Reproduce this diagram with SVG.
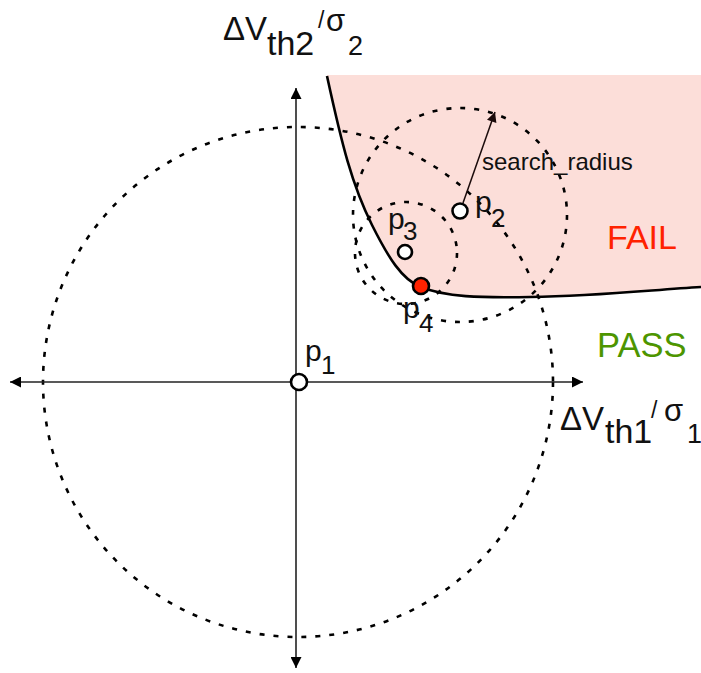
<svg xmlns="http://www.w3.org/2000/svg" width="701" height="673" viewBox="0 0 701 673">
<style>
text { font-family: "Liberation Sans", Arial, sans-serif; fill: #111; }
.dash { fill: none; stroke: #000; stroke-width: 2.6; stroke-dasharray: 5 9; }
.axis { fill: none; stroke: #222; stroke-width: 1.6; }
.pt { fill: #fff; stroke: #000; stroke-width: 2.6; }
</style>
<defs>
<marker id="ah" viewBox="0 0 10 10" refX="10" refY="5" markerWidth="15" markerHeight="11" markerUnits="userSpaceOnUse" orient="auto-start-reverse">
<path d="M0,0 L10,5 L0,10 z" fill="#000"/>
</marker>
<marker id="ah2" viewBox="0 0 10 10" refX="10" refY="5" markerWidth="13" markerHeight="10" markerUnits="userSpaceOnUse" orient="auto">
<path d="M0,0 L10,5 L0,10 z" fill="#1a0a0a"/>
</marker>
</defs>
<rect width="701" height="673" fill="#fff"/>
<g id="fail-region">
<path d="M327,76 C342,145 352,185 372,225 C388,257 402,280 421,287 C445,297 480,298 530,297 C600,296 650,290 701,287 L701,75 L327,75 Z" fill="#fcded9"/>
<path d="M327,76 C342,145 352,185 372,225 C388,257 402,280 421,287 C445,297 480,298 530,297 C600,296 650,290 701,287" fill="none" stroke="#000" stroke-width="2.6"/>
</g>
<g id="circles">
<circle class="dash" cx="298" cy="382" r="255"/>
<circle class="dash" cx="460" cy="215" r="107"/>
<circle class="dash" cx="406" cy="253" r="51"/>
</g>
<g id="connectors">
<line class="axis" x1="10" y1="382" x2="583" y2="382" marker-start="url(#ah)" marker-end="url(#ah)"/>
<line class="axis" x1="296" y1="88" x2="296" y2="668" marker-start="url(#ah)" marker-end="url(#ah)"/>
<line x1="463" y1="203" x2="495" y2="112" stroke="#1a0a0a" stroke-width="1.5" marker-end="url(#ah2)"/>
</g>
<g id="p1">
<circle class="pt" cx="299" cy="382" r="8"/>
<text x="305" y="361" font-size="30">p</text>
<text x="321" y="374" font-size="26">1</text>
</g>
<g id="p2">
<circle class="pt" cx="460" cy="211" r="7.5"/>
<text x="475" y="212" font-size="30">p</text>
<text x="491" y="227" font-size="26">2</text>
</g>
<g id="p3">
<circle class="pt" cx="405" cy="252" r="7"/>
<text x="388" y="229" font-size="30">p</text>
<text x="403" y="240" font-size="26">3</text>
</g>
<g id="p4">
<circle cx="421" cy="286" r="8" fill="#ff2200" stroke="#000" stroke-width="2.6"/>
<text x="403" y="318" font-size="30">p</text>
<text x="419" y="332" font-size="26">4</text>
</g>
<g id="labels">
<text x="482" y="170" font-size="24" fill="#222">search_radius</text>
<text x="607" y="249" font-size="34" style="fill:#ff2200">FAIL</text>
<text x="597" y="357" font-size="34.5" style="fill:#4d9500">PASS</text>
<text font-size="33"><tspan x="223" y="40">ΔV</tspan><tspan x="267" y="55" font-size="34">th2</tspan><tspan x="318" y="28" font-size="23">/</tspan><tspan x="326" y="31" font-size="31">σ</tspan><tspan x="348" y="55" font-size="27">2</tspan></text>
<text font-size="33"><tspan x="560" y="430">ΔV</tspan><tspan x="605" y="443" font-size="34">th1</tspan><tspan x="651" y="418" font-size="23">/</tspan><tspan x="664" y="421" font-size="31">σ</tspan><tspan x="687" y="443" font-size="27">1</tspan></text>
</g>
</svg>
